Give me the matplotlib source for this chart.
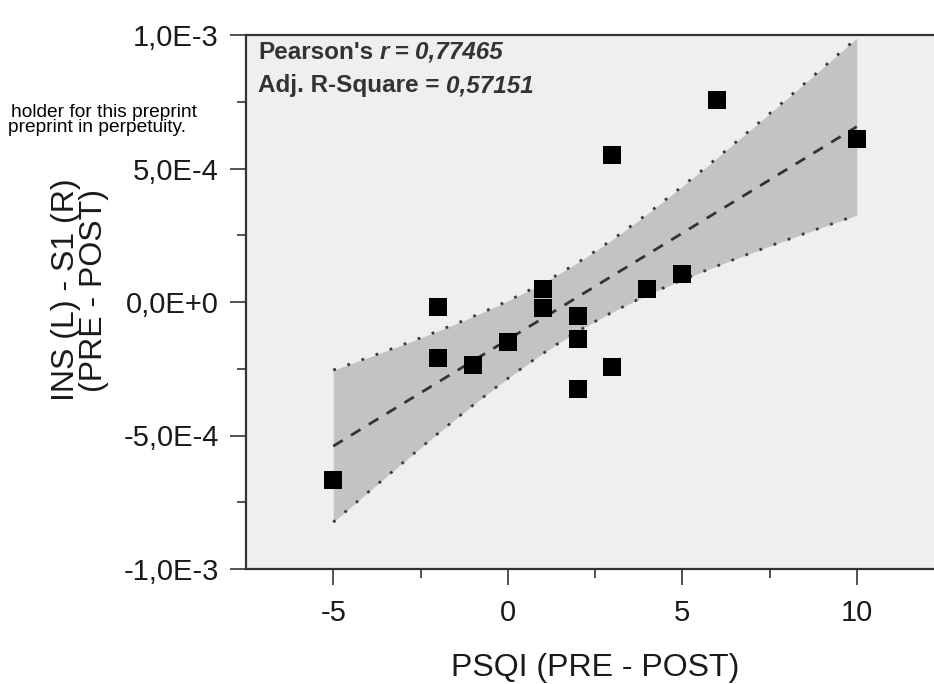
import numpy as np
import matplotlib.pyplot as plt

plt.rcParams['font.family'] = ['Liberation Sans', 'DejaVu Sans']

# PSQI change vs INS(L)-S1(R) change
psqi = np.array([-5, -2, -2, -1, 0, 1, 1, 2, 2, 2, 3, 3, 4, 5, 6, 10])
ins_s1 = np.array([-6.67, -0.18, -2.09, -2.36, -1.49, 0.49, -0.22, -0.52, -1.39,
                   -3.27, -2.42, 5.50, 0.47, 1.04, 7.57, 6.10]) * 1e-4

xticks = [-5, 0, 5, 10]
xticklabels = ['-5', '0', '5', '10']
yticks = [-1e-3, -5e-4, 0, 5e-4, 1e-3]
yticklabels = ['-1,0E-3', '-5,0E-4', '0,0E+0', '5,0E-4', '1,0E-3']
t_crit = 2.145  # 95%, df = 14

# linear fit + 95% confidence band
coef = np.polyfit(psqi, ins_s1, 1)
fit = np.poly1d(coef)
xf = np.linspace(psqi.min(), psqi.max(), 200)
yf = fit(xf)
n = len(psqi)
resid = ins_s1 - fit(psqi)
s = np.sqrt(np.sum(resid ** 2) / (n - 2))
sxx = np.sum((psqi - psqi.mean()) ** 2)
se = s * np.sqrt(1.0 / n + (xf - psqi.mean()) ** 2 / sxx)
lo = yf - t_crit * se
hi = yf + t_crit * se

W, H = 934, 684
fig = plt.figure(figsize=(W / 100, H / 100), dpi=100)
ax = fig.add_axes([246 / W, 1 - 569 / H, (944 - 246) / W, (569 - 35) / H])
ax.set_facecolor('#efefef')

ax.fill_between(xf, lo, hi, color='#c3c3c3', lw=0)
ax.plot(xf, hi, color='#3a3a3a', lw=2.0, ls=(0, (1, 4.4)))
ax.plot(xf, lo, color='#3a3a3a', lw=2.0, ls=(0, (1, 4.4)))
ax.plot(xf, yf, color='#333333', lw=2, ls=(0, (4, 3.5)))
ax.plot(psqi, ins_s1, 's', color='black', ms=13, mew=0)

ax.set_xlim(-7.5, 12.5)
ax.set_ylim(-1e-3, 1e-3)
ax.set_xticks(xticks)
ax.set_xticklabels(xticklabels)
ax.set_xticks([-2.5, 2.5, 7.5], minor=True)
ax.set_yticks(yticks)
ax.set_yticklabels(yticklabels)
ax.set_yticks([-7.5e-4, -2.5e-4, 2.5e-4, 7.5e-4], minor=True)
ax.tick_params(which='major', direction='out', length=11.5, width=1.2,
               color='#333333', labelsize=21, labelcolor='#1a1a1a')
ax.tick_params(which='minor', direction='out', length=6.5, width=1.2, color='#333333')
ax.tick_params(axis='x', pad=10)
ax.tick_params(axis='y', pad=8)
for side in ['top', 'left', 'bottom', 'right']:
    ax.spines[side].set_linewidth(1.6)
    ax.spines[side].set_color('#333333')

ax.set_xlabel('PSQI (PRE - POST)', fontsize=23, color='#1a1a1a', labelpad=19)
fig.text(80 / W, 1 - 290 / H, 'INS (L) - S1 (R)\n(PRE - POST)', rotation=90,
         ha='center', va='center', ma='center', fontsize=23, color='#1a1a1a',
         linespacing=0.95)

# stats box text
tc = '#333333'
fs = 17.5
t1 = fig.text(258 / W, 1 - 59 / H, "Pearson's", fontsize=fs, weight='bold', color=tc)
t2 = ax.annotate('r', xy=(1, 0), xycoords=t1, xytext=(4.5, 0), textcoords='offset points',
                 fontsize=fs, weight='bold', style='italic', color=tc, va='bottom')
t3 = ax.annotate('=', xy=(1, 0), xycoords=t2, xytext=(4.5, 0), textcoords='offset points',
                 fontsize=fs, weight='bold', color=tc, va='bottom')
ax.annotate('0,77465', xy=(1, 0), xycoords=t3, xytext=(4.5, 0), textcoords='offset points',
            fontsize=fs, weight='bold', style='italic', color=tc, va='bottom')
t4 = fig.text(258 / W, 1 - 92 / H, 'Adj. R-Square =', fontsize=fs, weight='bold', color=tc)
ax.annotate('0,57151', xy=(1, 0), xycoords=t4, xytext=(4.5, 0), textcoords='offset points',
            fontsize=fs, weight='bold', style='italic', color=tc, va='bottom')

# preprint watermark fragment
fig.text(197 / W, 1 - 120 / H, 'holder for this preprint\npreprint in perpetuity.  ',
         ha='right', va='center', ma='right', fontsize=13.8, color='black',
         linespacing=0.78)

fig.savefig('out.png', dpi=100)
